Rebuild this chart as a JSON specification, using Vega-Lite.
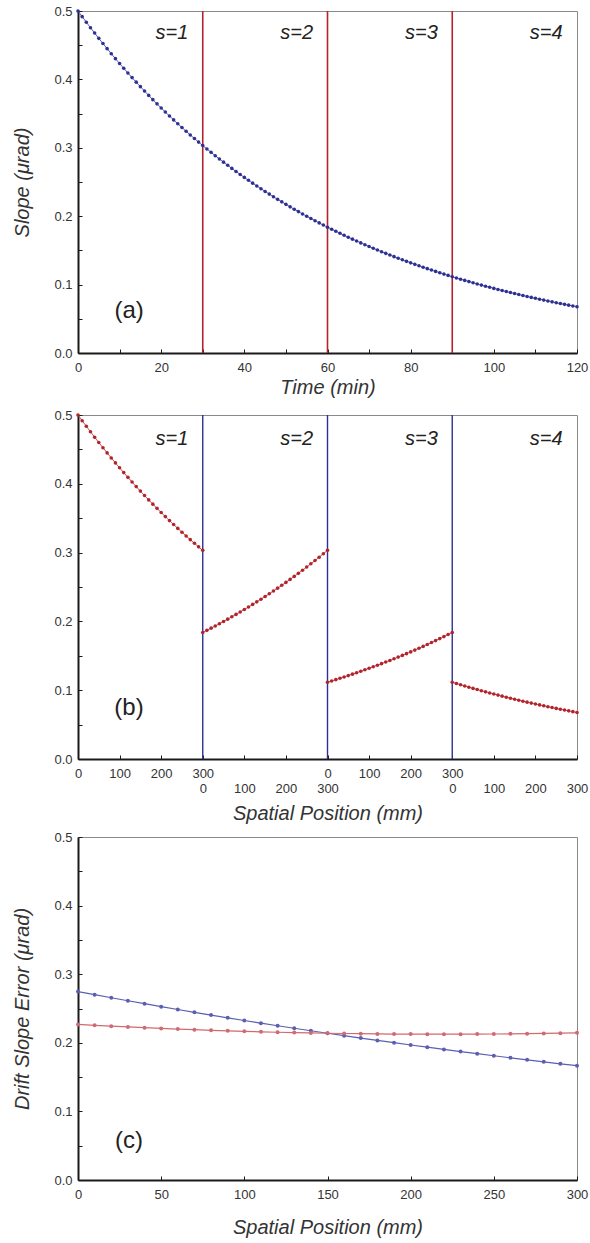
{
  "$schema": "https://vega.github.io/schema/vega-lite/v6.json",
  "padding": {"left": 12, "top": 4, "right": 5, "bottom": 5},
  "background": "white",
  "config": {
    "font": "Liberation Sans",
    "view": {"stroke": "#8a8a8a", "strokeWidth": 1},
    "axis": {
      "domainColor": "#1a1a1a", "domainWidth": 2,
      "tickColor": "#1a1a1a", "tickWidth": 1, "tickSize": -4,
      "labelFont": "Liberation Sans", "labelFontSize": 13, "labelColor": "#333333",
      "labelFlush": false, "labelOverlap": false, "labelBound": false,
      "titleFont": "Liberation Sans", "titleFontSize": 20, "titleFontStyle": "italic",
      "titleFontWeight": "normal", "titleColor": "#333333", "grid": false
    },
    "axisY": {"labelPadding": 10, "titlePadding": 21},
    "axisX": {"labelPadding": 12}
  },
  "datasets": {
    "a": [
      {"x":0,"y":0.5},{"x":1,"y":0.49174},{"x":2,"y":0.48361},{"x":3,"y":0.47561},{"x":4,"y":0.46775},{"x":5,"y":0.46002},{"x":6,"y":0.45242},{"x":7,"y":0.44494},{"x":8,"y":0.43759},{"x":9,"y":0.43035},
      {"x":10,"y":0.42324},{"x":11,"y":0.41625},{"x":12,"y":0.40937},{"x":13,"y":0.4026},{"x":14,"y":0.39594},{"x":15,"y":0.3894},{"x":16,"y":0.38296},{"x":17,"y":0.37663},{"x":18,"y":0.37041},{"x":19,"y":0.36429},
      {"x":20,"y":0.35827},{"x":21,"y":0.35234},{"x":22,"y":0.34652},{"x":23,"y":0.34079},{"x":24,"y":0.33516},{"x":25,"y":0.32962},{"x":26,"y":0.32417},{"x":27,"y":0.31881},{"x":28,"y":0.31354},{"x":29,"y":0.30836},
      {"x":30,"y":0.30327},{"x":31,"y":0.29826},{"x":32,"y":0.29332},{"x":33,"y":0.28847},{"x":34,"y":0.28371},{"x":35,"y":0.27902},{"x":36,"y":0.27441},{"x":37,"y":0.26987},{"x":38,"y":0.26541},{"x":39,"y":0.26102},
      {"x":40,"y":0.25671},{"x":41,"y":0.25247},{"x":42,"y":0.2483},{"x":43,"y":0.24419},{"x":44,"y":0.24015},{"x":45,"y":0.23618},{"x":46,"y":0.23228},{"x":47,"y":0.22844},{"x":48,"y":0.22467},{"x":49,"y":0.22095},
      {"x":50,"y":0.2173},{"x":51,"y":0.21371},{"x":52,"y":0.21018},{"x":53,"y":0.2067},{"x":54,"y":0.20329},{"x":55,"y":0.19993},{"x":56,"y":0.19662},{"x":57,"y":0.19337},{"x":58,"y":0.19017},{"x":59,"y":0.18703},
      {"x":60,"y":0.18394},{"x":61,"y":0.1809},{"x":62,"y":0.17791},{"x":63,"y":0.17497},{"x":64,"y":0.17208},{"x":65,"y":0.16923},{"x":66,"y":0.16644},{"x":67,"y":0.16369},{"x":68,"y":0.16098},{"x":69,"y":0.15832},
      {"x":70,"y":0.1557},{"x":71,"y":0.15313},{"x":72,"y":0.1506},{"x":73,"y":0.14811},{"x":74,"y":0.14566},{"x":75,"y":0.14325},{"x":76,"y":0.14089},{"x":77,"y":0.13856},{"x":78,"y":0.13627},{"x":79,"y":0.13401},
      {"x":80,"y":0.1318},{"x":81,"y":0.12962},{"x":82,"y":0.12748},{"x":83,"y":0.12537},{"x":84,"y":0.1233},{"x":85,"y":0.12126},{"x":86,"y":0.11926},{"x":87,"y":0.11729},{"x":88,"y":0.11534},{"x":89,"y":0.11344},
      {"x":90,"y":0.11157},{"x":91,"y":0.10972},{"x":92,"y":0.10791},{"x":93,"y":0.10613},{"x":94,"y":0.10437},{"x":95,"y":0.10264},{"x":96,"y":0.10095},{"x":97,"y":0.09928},{"x":98,"y":0.09764},{"x":99,"y":0.09603},
      {"x":100,"y":0.09444},{"x":101,"y":0.09288},{"x":102,"y":0.09134},{"x":103,"y":0.08983},{"x":104,"y":0.08835},{"x":105,"y":0.08689},{"x":106,"y":0.08545},{"x":107,"y":0.08404},{"x":108,"y":0.08265},{"x":109,"y":0.08128},
      {"x":110,"y":0.07994},{"x":111,"y":0.07862},{"x":112,"y":0.07732},{"x":113,"y":0.07604},{"x":114,"y":0.07479},{"x":115,"y":0.07355},{"x":116,"y":0.07233},{"x":117,"y":0.07114},{"x":118,"y":0.06996},{"x":119,"y":0.06881},
      {"x":120,"y":0.06767}
    ],
    "b": [
      {"seg":1,"x":0,"y":0.5},{"seg":1,"x":10,"y":0.49174},{"seg":1,"x":20,"y":0.48361},{"seg":1,"x":30,"y":0.47561},{"seg":1,"x":40,"y":0.46775},{"seg":1,"x":50,"y":0.46002},{"seg":1,"x":60,"y":0.45242},{"seg":1,"x":70,"y":0.44494},{"seg":1,"x":80,"y":0.43759},{"seg":1,"x":90,"y":0.43035},
      {"seg":1,"x":100,"y":0.42324},{"seg":1,"x":110,"y":0.41625},{"seg":1,"x":120,"y":0.40937},{"seg":1,"x":130,"y":0.4026},{"seg":1,"x":140,"y":0.39594},{"seg":1,"x":150,"y":0.3894},{"seg":1,"x":160,"y":0.38296},{"seg":1,"x":170,"y":0.37663},{"seg":1,"x":180,"y":0.37041},{"seg":1,"x":190,"y":0.36429},
      {"seg":1,"x":200,"y":0.35827},{"seg":1,"x":210,"y":0.35234},{"seg":1,"x":220,"y":0.34652},{"seg":1,"x":230,"y":0.34079},{"seg":1,"x":240,"y":0.33516},{"seg":1,"x":250,"y":0.32962},{"seg":1,"x":260,"y":0.32417},{"seg":1,"x":270,"y":0.31881},{"seg":1,"x":280,"y":0.31354},{"seg":1,"x":290,"y":0.30836},{"seg":1,"x":300,"y":0.30327},
      {"seg":2,"x":300,"y":0.18394},{"seg":2,"x":310,"y":0.18703},{"seg":2,"x":320,"y":0.19017},{"seg":2,"x":330,"y":0.19337},{"seg":2,"x":340,"y":0.19662},{"seg":2,"x":350,"y":0.19993},{"seg":2,"x":360,"y":0.20329},{"seg":2,"x":370,"y":0.2067},{"seg":2,"x":380,"y":0.21018},{"seg":2,"x":390,"y":0.21371},
      {"seg":2,"x":400,"y":0.2173},{"seg":2,"x":410,"y":0.22095},{"seg":2,"x":420,"y":0.22467},{"seg":2,"x":430,"y":0.22844},{"seg":2,"x":440,"y":0.23228},{"seg":2,"x":450,"y":0.23618},{"seg":2,"x":460,"y":0.24015},{"seg":2,"x":470,"y":0.24419},{"seg":2,"x":480,"y":0.2483},{"seg":2,"x":490,"y":0.25247},
      {"seg":2,"x":500,"y":0.25671},{"seg":2,"x":510,"y":0.26102},{"seg":2,"x":520,"y":0.26541},{"seg":2,"x":530,"y":0.26987},{"seg":2,"x":540,"y":0.27441},{"seg":2,"x":550,"y":0.27902},{"seg":2,"x":560,"y":0.28371},{"seg":2,"x":570,"y":0.28847},{"seg":2,"x":580,"y":0.29332},{"seg":2,"x":590,"y":0.29826},{"seg":2,"x":600,"y":0.30327},
      {"seg":3,"x":600,"y":0.11157},{"seg":3,"x":610,"y":0.11344},{"seg":3,"x":620,"y":0.11534},{"seg":3,"x":630,"y":0.11729},{"seg":3,"x":640,"y":0.11926},{"seg":3,"x":650,"y":0.12126},{"seg":3,"x":660,"y":0.1233},{"seg":3,"x":670,"y":0.12537},{"seg":3,"x":680,"y":0.12748},{"seg":3,"x":690,"y":0.12962},
      {"seg":3,"x":700,"y":0.1318},{"seg":3,"x":710,"y":0.13401},{"seg":3,"x":720,"y":0.13627},{"seg":3,"x":730,"y":0.13856},{"seg":3,"x":740,"y":0.14089},{"seg":3,"x":750,"y":0.14325},{"seg":3,"x":760,"y":0.14566},{"seg":3,"x":770,"y":0.14811},{"seg":3,"x":780,"y":0.1506},{"seg":3,"x":790,"y":0.15313},
      {"seg":3,"x":800,"y":0.1557},{"seg":3,"x":810,"y":0.15832},{"seg":3,"x":820,"y":0.16098},{"seg":3,"x":830,"y":0.16369},{"seg":3,"x":840,"y":0.16644},{"seg":3,"x":850,"y":0.16923},{"seg":3,"x":860,"y":0.17208},{"seg":3,"x":870,"y":0.17497},{"seg":3,"x":880,"y":0.17791},{"seg":3,"x":890,"y":0.1809},{"seg":3,"x":900,"y":0.18394},
      {"seg":4,"x":900,"y":0.11157},{"seg":4,"x":910,"y":0.10972},{"seg":4,"x":920,"y":0.10791},{"seg":4,"x":930,"y":0.10613},{"seg":4,"x":940,"y":0.10437},{"seg":4,"x":950,"y":0.10264},{"seg":4,"x":960,"y":0.10095},{"seg":4,"x":970,"y":0.09928},{"seg":4,"x":980,"y":0.09764},{"seg":4,"x":990,"y":0.09603},
      {"seg":4,"x":1000,"y":0.09444},{"seg":4,"x":1010,"y":0.09288},{"seg":4,"x":1020,"y":0.09134},{"seg":4,"x":1030,"y":0.08983},{"seg":4,"x":1040,"y":0.08835},{"seg":4,"x":1050,"y":0.08689},{"seg":4,"x":1060,"y":0.08545},{"seg":4,"x":1070,"y":0.08404},{"seg":4,"x":1080,"y":0.08265},{"seg":4,"x":1090,"y":0.08128},
      {"seg":4,"x":1100,"y":0.07994},{"seg":4,"x":1110,"y":0.07862},{"seg":4,"x":1120,"y":0.07732},{"seg":4,"x":1130,"y":0.07604},{"seg":4,"x":1140,"y":0.07479},{"seg":4,"x":1150,"y":0.07355},{"seg":4,"x":1160,"y":0.07233},{"seg":4,"x":1170,"y":0.07114},{"seg":4,"x":1180,"y":0.06996},{"seg":4,"x":1190,"y":0.06881},{"seg":4,"x":1200,"y":0.06767}
    ],
    "c": [
      {"s":"Raster","x":0,"y":0.27469},{"s":"Raster","x":10,"y":0.27015},{"s":"Raster","x":20,"y":0.26569},{"s":"Raster","x":30,"y":0.2613},{"s":"Raster","x":40,"y":0.25698},{"s":"Raster","x":50,"y":0.25273},{"s":"Raster","x":60,"y":0.24855},{"s":"Raster","x":70,"y":0.24444},{"s":"Raster","x":80,"y":0.2404},{"s":"Raster","x":90,"y":0.23643},
      {"s":"Raster","x":100,"y":0.23252},{"s":"Raster","x":110,"y":0.22868},{"s":"Raster","x":120,"y":0.2249},{"s":"Raster","x":130,"y":0.22118},{"s":"Raster","x":140,"y":0.21752},{"s":"Raster","x":150,"y":0.21393},{"s":"Raster","x":160,"y":0.21039},{"s":"Raster","x":170,"y":0.20691},{"s":"Raster","x":180,"y":0.20349},{"s":"Raster","x":190,"y":0.20013},
      {"s":"Raster","x":200,"y":0.19682},{"s":"Raster","x":210,"y":0.19357},{"s":"Raster","x":220,"y":0.19037},{"s":"Raster","x":230,"y":0.18722},{"s":"Raster","x":240,"y":0.18413},{"s":"Raster","x":250,"y":0.18109},{"s":"Raster","x":260,"y":0.1781},{"s":"Raster","x":270,"y":0.17516},{"s":"Raster","x":280,"y":0.17226},{"s":"Raster","x":290,"y":0.16941},{"s":"Raster","x":300,"y":0.16661},
      {"s":"Serpentine","x":0,"y":0.22677},{"s":"Serpentine","x":10,"y":0.22548},{"s":"Serpentine","x":20,"y":0.22426},{"s":"Serpentine","x":30,"y":0.2231},{"s":"Serpentine","x":40,"y":0.222},{"s":"Serpentine","x":50,"y":0.22096},{"s":"Serpentine","x":60,"y":0.21999},{"s":"Serpentine","x":70,"y":0.21907},{"s":"Serpentine","x":80,"y":0.21822},{"s":"Serpentine","x":90,"y":0.21743},
      {"s":"Serpentine","x":100,"y":0.2167},{"s":"Serpentine","x":110,"y":0.21602},{"s":"Serpentine","x":120,"y":0.21541},{"s":"Serpentine","x":130,"y":0.21486},{"s":"Serpentine","x":140,"y":0.21437},{"s":"Serpentine","x":150,"y":0.21393},{"s":"Serpentine","x":160,"y":0.21356},{"s":"Serpentine","x":170,"y":0.21324},{"s":"Serpentine","x":180,"y":0.21299},{"s":"Serpentine","x":190,"y":0.21279},
      {"s":"Serpentine","x":200,"y":0.21266},{"s":"Serpentine","x":210,"y":0.21258},{"s":"Serpentine","x":220,"y":0.21256},{"s":"Serpentine","x":230,"y":0.2126},{"s":"Serpentine","x":240,"y":0.2127},{"s":"Serpentine","x":250,"y":0.21286},{"s":"Serpentine","x":260,"y":0.21307},{"s":"Serpentine","x":270,"y":0.21335},{"s":"Serpentine","x":280,"y":0.21368},{"s":"Serpentine","x":290,"y":0.21408},{"s":"Serpentine","x":300,"y":0.21454}
    ],
    "vA": [{"x":30,"y":0,"y2":0.5},{"x":60,"y":0,"y2":0.5},{"x":90,"y":0,"y2":0.5}],
    "vB": [{"x":300,"y":0,"y2":0.5},{"x":600,"y":0,"y2":0.5},{"x":900,"y":0,"y2":0.5}],
    "sA": [{"x":22.6,"y":0.468,"label":"s=1"},{"x":52.6,"y":0.468,"label":"s=2"},{"x":82.6,"y":0.468,"label":"s=3"},{"x":112.6,"y":0.468,"label":"s=4"}],
    "sB": [{"x":226,"y":0.465,"label":"s=1"},{"x":526,"y":0.465,"label":"s=2"},{"x":826,"y":0.465,"label":"s=3"},{"x":1126,"y":0.465,"label":"s=4"}],
    "pA": [{"x":12.3,"y":0.061,"label":"(a)"}],
    "pB": [{"x":122.6,"y":0.074,"label":"(b)"}],
    "pC": [{"x":30.7,"y":0.057,"label":"(c)"}]
  },
  "spacing": 6,
  "vconcat": [
    {
      "spacing": 10,
      "vconcat": [
        {
          "width": 499, "height": 342,
          "encoding": {
            "x": {"field": "x", "type": "quantitative",
              "scale": {"domain": [0, 120], "nice": false, "zero": false},
              "axis": {"title": "Time (min)", "titlePadding": 3, "values": [0,10,20,30,40,50,60,70,80,90,100,110,120],
                "labelExpr": "datum.value % 20 == 0 ? datum.label : ''"}},
            "y": {"field": "y", "type": "quantitative",
              "scale": {"domain": [0, 0.5], "nice": false},
              "axis": {"title": "Slope (μrad)", "values": [0,0.05,0.1,0.15,0.2,0.25,0.3,0.35,0.4,0.45,0.5],
                "labelExpr": "abs(datum.value*10 - round(datum.value*10)) < 0.001 ? format(datum.value, '.1f') : ''"}}
          },
          "layer": [
            {"data": {"name": "vA"}, "mark": {"type": "rule", "color": "#b3232b", "strokeWidth": 1.6},
              "encoding": {"y2": {"field": "y2"}}},
            {"data": {"name": "a"}, "mark": {"type": "line", "color": "#5a5fb0", "strokeWidth": 1}},
            {"data": {"name": "a"}, "mark": {"type": "point", "filled": true, "size": 13, "opacity": 1, "color": "#2e3192"}},
            {"data": {"name": "sA"}, "mark": {"type": "text", "fontSize": 20, "fontStyle": "italic", "color": "#222222", "align": "center", "baseline": "middle"},
              "encoding": {"text": {"field": "label"}}},
            {"data": {"name": "pA"}, "mark": {"type": "text", "fontSize": 24, "color": "#222222", "align": "center", "baseline": "middle"},
              "encoding": {"text": {"field": "label"}}}
          ]
        },
        {
          "width": 499, "height": 344,
          "encoding": {
            "x": {"field": "x", "type": "quantitative",
              "scale": {"domain": [0, 1200], "nice": false, "zero": false},
              "axis": {"title": "Spatial Position (mm)", "titlePadding": 8, "labelPadding": 12, "values": [0,100,200,300,400,500,600,700,800,900,1000,1100,1200],
                "labelLineHeight": 15,
                "labelExpr": "datum.value==0?'0':datum.value==100?'100':datum.value==200?'200':datum.value==300?['300','0']:datum.value==400?['','100']:datum.value==500?['','200']:datum.value==600?['0','300']:datum.value==700?'100':datum.value==800?'200':datum.value==900?['300','0']:datum.value==1000?['','100']:datum.value==1100?['','200']:['','300']"}},
            "y": {"field": "y", "type": "quantitative",
              "scale": {"domain": [0, 0.5], "nice": false},
              "axis": {"title": null, "values": [0,0.05,0.1,0.15,0.2,0.25,0.3,0.35,0.4,0.45,0.5],
                "labelExpr": "abs(datum.value*10 - round(datum.value*10)) < 0.001 ? format(datum.value, '.1f') : ''"}}
          },
          "layer": [
            {"data": {"name": "vB"}, "mark": {"type": "rule", "color": "#2e3192", "strokeWidth": 1.4},
              "encoding": {"y2": {"field": "y2"}}},
            {"data": {"name": "b"}, "mark": {"type": "line", "color": "#c4525a", "strokeWidth": 1},
              "encoding": {"detail": {"field": "seg", "type": "nominal"}}},
            {"data": {"name": "b"}, "mark": {"type": "point", "filled": true, "size": 13, "opacity": 1, "color": "#b3232b"}},
            {"data": {"name": "sB"}, "mark": {"type": "text", "fontSize": 20, "fontStyle": "italic", "color": "#222222", "align": "center", "baseline": "middle"},
              "encoding": {"text": {"field": "label"}}},
            {"data": {"name": "pB"}, "mark": {"type": "text", "fontSize": 24, "color": "#222222", "align": "center", "baseline": "middle"},
              "encoding": {"text": {"field": "label"}}}
          ]
        }
      ]
    },
    {
      "width": 499, "height": 343,
      "encoding": {
        "x": {"field": "x", "type": "quantitative",
          "scale": {"domain": [0, 300], "nice": false, "zero": false},
          "axis": {"title": "Spatial Position (mm)", "titlePadding": 16, "values": [0,50,100,150,200,250,300]}},
        "y": {"field": "y", "type": "quantitative",
          "scale": {"domain": [0, 0.5], "nice": false},
          "axis": {"title": "Drift Slope Error (μrad)", "values": [0,0.05,0.1,0.15,0.2,0.25,0.3,0.35,0.4,0.45,0.5],
            "labelExpr": "abs(datum.value*10 - round(datum.value*10)) < 0.001 ? format(datum.value, '.1f') : ''"}}
      },
      "layer": [
        {"data": {"name": "c"}, "mark": {"type": "line", "strokeWidth": 1.2},
          "encoding": {"color": {"field": "s", "type": "nominal", "legend": null,
            "scale": {"domain": ["Raster", "Serpentine"], "range": ["#5a5fb0", "#d06a72"]}}}},
        {"data": {"name": "c"}, "mark": {"type": "point", "filled": true, "size": 16, "opacity": 1},
          "encoding": {"color": {"field": "s", "type": "nominal", "legend": null,
            "scale": {"domain": ["Raster", "Serpentine"], "range": ["#2e3192", "#b3232b"]}}}},
        {"data": {"name": "pC"}, "mark": {"type": "text", "fontSize": 24, "color": "#222222", "align": "center", "baseline": "middle"},
          "encoding": {"text": {"field": "label"}}}
      ]
    }
  ]
}
